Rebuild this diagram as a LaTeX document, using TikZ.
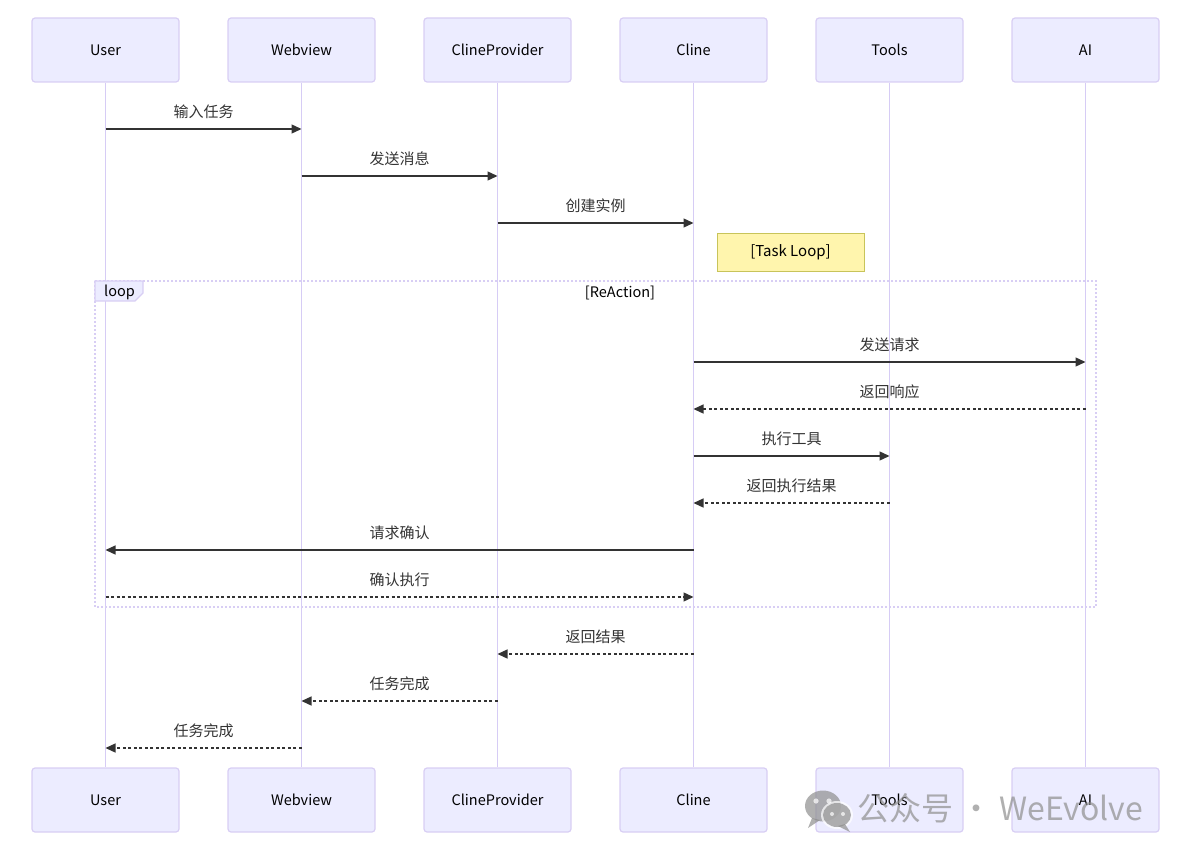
\documentclass[tikz,border=0pt]{standalone}
\usepackage{fontspec}
\setmainfont{Noto Sans CJK SC}
\usetikzlibrary{arrows.meta}
\definecolor{actfill}{HTML}{ECECFF}
\definecolor{actline}{HTML}{D8CEF4}
\definecolor{life}{HTML}{D6CCF5}
\definecolor{msg}{HTML}{333333}
\definecolor{notefill}{HTML}{FFF5AD}
\definecolor{noteline}{HTML}{C8C45A}
\definecolor{wm}{HTML}{8E8E8E}
\tikzset{
  actor/.style={draw=actline, fill=actfill, line width=1.2pt, rounded corners=3pt,
    minimum width=147pt, minimum height=64pt, inner sep=0pt, font=\fontsize{14.5}{16}\selectfont, text=black},
  lifeline/.style={draw=life, line width=1.6pt},
  msgsolid/.style={draw=msg, line width=1.3pt, -{Triangle[length=10pt,width=9pt]}},
  msgdash/.style={msgsolid, dash pattern=on 3pt off 2.5pt},
  msglabel/.style={font=\fontsize{15}{17}\selectfont, text=msg, inner sep=0pt},
  notebox/.style={draw=noteline, fill=notefill, line width=1pt, minimum width=147pt, minimum height=38pt,
    inner sep=0pt, font=\fontsize{15}{17}\selectfont, text=black},
  loopframe/.style={draw=actline, line width=1.6pt, dash pattern=on 2pt off 2pt},
}
\begin{document}
\begin{tikzpicture}[x=1pt,y=-1pt]
\useasboundingbox (0,0) rectangle (1180,856);
% actors
\foreach \n/\x/\t in {u/105.5/User, w/301.5/Webview, p/497.5/ClineProvider, c/693.5/Cline, t/889.5/Tools, a/1085.5/AI}{
  \node[actor] (\n T) at (\x,50) {\t};
  \node[actor] (\n B) at (\x,800) {\t};
}
% lifelines
\foreach \n in {u,w,p,c,t,a}{
  \draw[lifeline] (\n T.south) -- (\n B.north);
}
% loop frame
\draw[loopframe] (95,281) rectangle (1096,607);
\filldraw[fill=actfill, draw=actline, line width=1.2pt] (95,281) -- (143,281) -- (143,293) -- (135,301) -- (95,301) -- cycle;
\node[msglabel, text=black, anchor=west, font=\fontsize{14.5}{16}\selectfont] (looplbl) at (104,292) {loop};
\node[msglabel, text=black, font=\fontsize{14.5}{16}\selectfont] (cond) at (620,293) {[ReAction]};
% note
\node[notebox] (note) at (790.5,252) {[Task Loop]};
% message coordinates
\foreach \n/\x in {u/105.5, w/301.5, p/497.5, c/693.5, t/889.5, a/1085.5}{
  \foreach \k/\y in {1/129, 2/176, 3/223, 4/362, 5/409, 6/456, 7/503, 8/550, 9/597, 10/654, 11/701, 12/748}{
    \coordinate (\n\k) at (\x,\y);
  }
}
\draw[msgsolid] (u1) -- node[msglabel, above=10pt] (l1) {输入任务} (w1);
\draw[msgsolid] (w2) -- node[msglabel, above=10pt] (l2) {发送消息} (p2);
\draw[msgsolid] (p3) -- node[msglabel, above=10pt] (l3) {创建实例} (c3);
\draw[msgsolid] (c4) -- node[msglabel, above=10pt] (l4) {发送请求} (a4);
\draw[msgdash] (a5) -- node[msglabel, above=10pt] (l5) {返回响应} (c5);
\draw[msgsolid] (c6) -- node[msglabel, above=10pt] (l6) {执行工具} (t6);
\draw[msgdash] (t7) -- node[msglabel, above=10pt] (l7) {返回执行结果} (c7);
\draw[msgsolid] (c8) -- node[msglabel, above=10pt] (l8) {请求确认} (u8);
\draw[msgdash] (u9) -- node[msglabel, above=10pt] (l9) {确认执行} (c9);
\draw[msgdash] (c10) -- node[msglabel, above=10pt] (l10) {返回结果} (p10);
\draw[msgdash] (p11) -- node[msglabel, above=10pt] (l11) {任务完成} (w11);
\draw[msgdash] (w12) -- node[msglabel, above=10pt] (l12) {任务完成} (u12);
% watermark
\begin{scope}[opacity=0.7]
\fill[wm] (823,806) ellipse [x radius=18pt, y radius=15.5pt];
\fill[wm] (812,818) -- (808,828) -- (820,820) -- cycle;
\fill[white] (837,815) ellipse [x radius=16pt, y radius=14pt];
\fill[wm] (837,815) ellipse [x radius=14pt, y radius=12pt];
\fill[wm] (845,824) -- (850,832) -- (838,826) -- cycle;
\fill[white] (816,801) circle (2.6pt);
\fill[white] (829,801) circle (2.6pt);
\fill[white] (832,814) circle (2pt);
\fill[white] (843,814) circle (2pt);
\node[anchor=west, inner sep=0pt, text=wm, font=\fontsize{32}{35}\selectfont] (wmtext) at (857,808) {公众号 · WeEvolve};
\end{scope}
\end{tikzpicture}
\end{document}
